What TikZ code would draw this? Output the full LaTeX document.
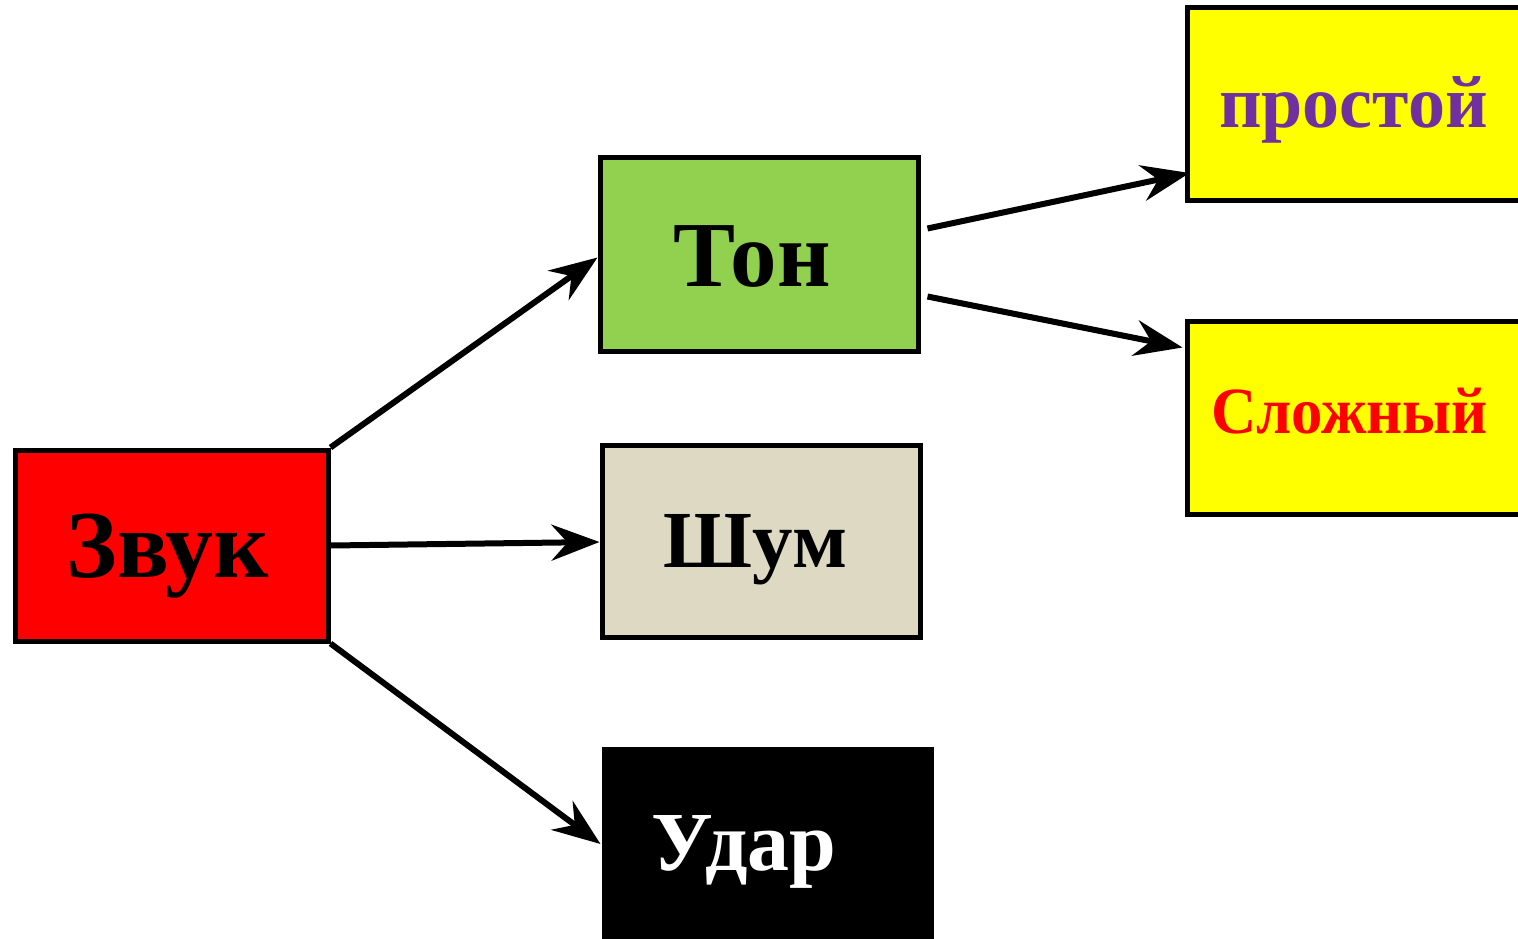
\documentclass[tikz,border=0pt]{standalone}
\usepackage{fontspec}
\setmainfont{Liberation Serif}
\usetikzlibrary{arrows.meta,calc}
\definecolor{tonegreen}{HTML}{92D050}
\definecolor{noisebeige}{HTML}{DDD9C3}
\definecolor{simplepurple}{HTML}{7030A0}
\definecolor{boxyellow}{HTML}{FFFF00}
\tikzset{
  box/.style={draw=black, line width=5pt, rectangle, inner sep=0pt, anchor=center},
  conn/.style={line width=6pt, -{Stealth[length=48pt,width=36pt,inset=16pt]}},
  word/.style={anchor=base, inner sep=0pt, font=\bfseries\fontsize{#1}{#1}\selectfont},
}
\begin{document}
\begin{tikzpicture}[x={(1pt,0)}, y={(0,-1pt)}]
  \useasboundingbox (0,0) rectangle (1518,939);
  \clip (0,0) rectangle (1518,939);

  % sound and its three kinds
  \node[box, fill=red, minimum width=313pt, minimum height=191pt] (zvuk) at (171.5,545.5) {};
  \node[box, fill=tonegreen, minimum width=318pt, minimum height=193pt] (ton) at (759,254.5) {};
  \node[box, fill=noisebeige, minimum width=318pt, minimum height=192pt] (shum) at (761,541) {};
  \node[box, fill=black, line width=1pt, minimum width=331pt, minimum height=200pt] (udar) at (767.5,847) {};

  % kinds of tone
  \node[box, fill=boxyellow, minimum width=333pt, minimum height=192pt] (prost) at (1353.5,104) {};
  \node[box, fill=boxyellow, minimum width=333pt, minimum height=193pt] (slozh) at (1353.5,417.5) {};

  % labels, set on their baselines
  \node[word=96] (zvukT) at (168,577) {Звук};
  \node[word=93] (tonT) at (752,286) {Тон};
  \node[word=81] (shumT) at (755.5,567) {Шум};
  \node[word=84, text=white] (udarT) at (744,870) {Удар};
  \node[word=74, text=simplepurple] (prostT) at (1353.5,128) {простой};
  \node[word=66, text=red] (slozhT) at (1349.5,433) {\scalebox{0.95}[1]{Сложный}};

  % connectors
  \draw[conn] (zvuk.north east) -- ($(ton.west)+(0,3)$);
  \draw[conn] (zvuk.east) -- ($(shum.west)+(0,1)$);
  \draw[conn] (zvuk.south east) -- ($(udar.west)+(-1,-3)$);
  \draw[conn] ($(ton.east)+(7,-26)$) -- ($(prost.west)+(5,69)$);
  \draw[conn] ($(ton.east)+(7,42)$) -- ($(slozh.west)+(-2,-70)$);
\end{tikzpicture}
\end{document}
